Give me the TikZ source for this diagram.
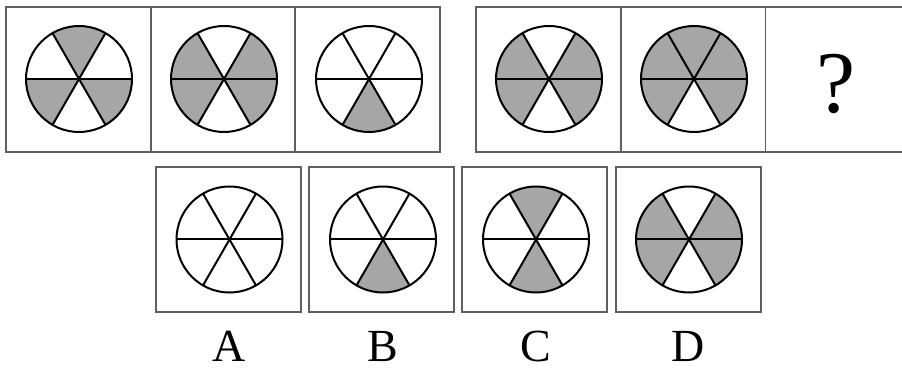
\documentclass[tikz,border=0pt]{standalone}
\usepackage{fontspec}
\setmainfont{Liberation Serif}
\definecolor{sect}{RGB}{166,166,166}
\definecolor{framec}{RGB}{95,95,95}
\tikzset{
  wl/.style={line width=2pt, draw=black},
  cell/.style={draw=framec, line width=1.4pt, minimum width=145pt, minimum height=145pt, inner sep=0pt},
  lab/.style={font=\fontsize{46}{46}\selectfont, anchor=base, inner sep=0pt}
}
\newcommand\mysectors[3]{%
  \foreach \a in {#3} {\fill[sect] (#1,#2) -- ++(\a:53) arc[start angle=\a, delta angle=60, radius=53] -- cycle;}}
\newcommand\mywheel[2]{%
  \foreach \a in {0,60,120} {\draw[wl] ($(#1,#2)+(\a:53)$) -- ($(#1,#2)+(\a+180:53)$);}
  \draw[wl] (#1,#2) circle[radius=53];}
\usetikzlibrary{calc}
\begin{document}
\begin{tikzpicture}[x=1pt,y=1pt]
\useasboundingbox (0,0) rectangle (902,-371);
% top left group
\node[cell] (t1) at (78.5,-79.5) {};
\node[cell] (t2) at (223,-79.5) {};
\node[cell] (t3) at (367.5,-79.5) {};
% top right group
\node[cell] (t4) at (548.5,-79.5) {};
\node[cell] (t5) at (693,-79.5) {};
\coordinate (t6a) at (765.5,-7);
\coordinate (t6b) at (765.5,-152);
\draw[draw=framec, line width=1.4pt] (902,-7) -- (t6a) -- (t6b) -- (902,-152);
\node[font=\fontsize{88}{88}\selectfont, anchor=base, inner sep=0pt] (q) at (836,-113) {?};
% bottom
\node[cell] (bA) at (228.5,-239.5) {};
\node[cell] (bB) at (381.5,-239.5) {};
\node[cell] (bC) at (534.5,-239.5) {};
\node[cell] (bD) at (688.5,-239.5) {};
% wheels
\mysectors{79}{-79}{60,180,300}\mywheel{79}{-79}
\mysectors{224}{-79}{0,120,180,300}\mywheel{224}{-79}
\mysectors{369}{-79}{240}\mywheel{369}{-79}
\mysectors{549}{-79}{0,120,180,300}\mywheel{549}{-79}
\mysectors{694}{-79}{0,60,120,180,300}\mywheel{694}{-79}
\mywheel{229.5}{-239.5}
\mysectors{383}{-239.5}{240}\mywheel{383}{-239.5}
\mysectors{536}{-239.5}{60,240}\mywheel{536}{-239.5}
\mysectors{689}{-239.5}{0,120,180,300}\mywheel{689}{-239.5}
% labels
\node[lab] (lA) at (229,-361.5) {A};
\node[lab] (lB) at (383,-361.5) {B};
\node[lab] (lC) at (536,-361.5) {C};
\node[lab] (lD) at (688,-361.5) {D};
\end{tikzpicture}
\end{document}
